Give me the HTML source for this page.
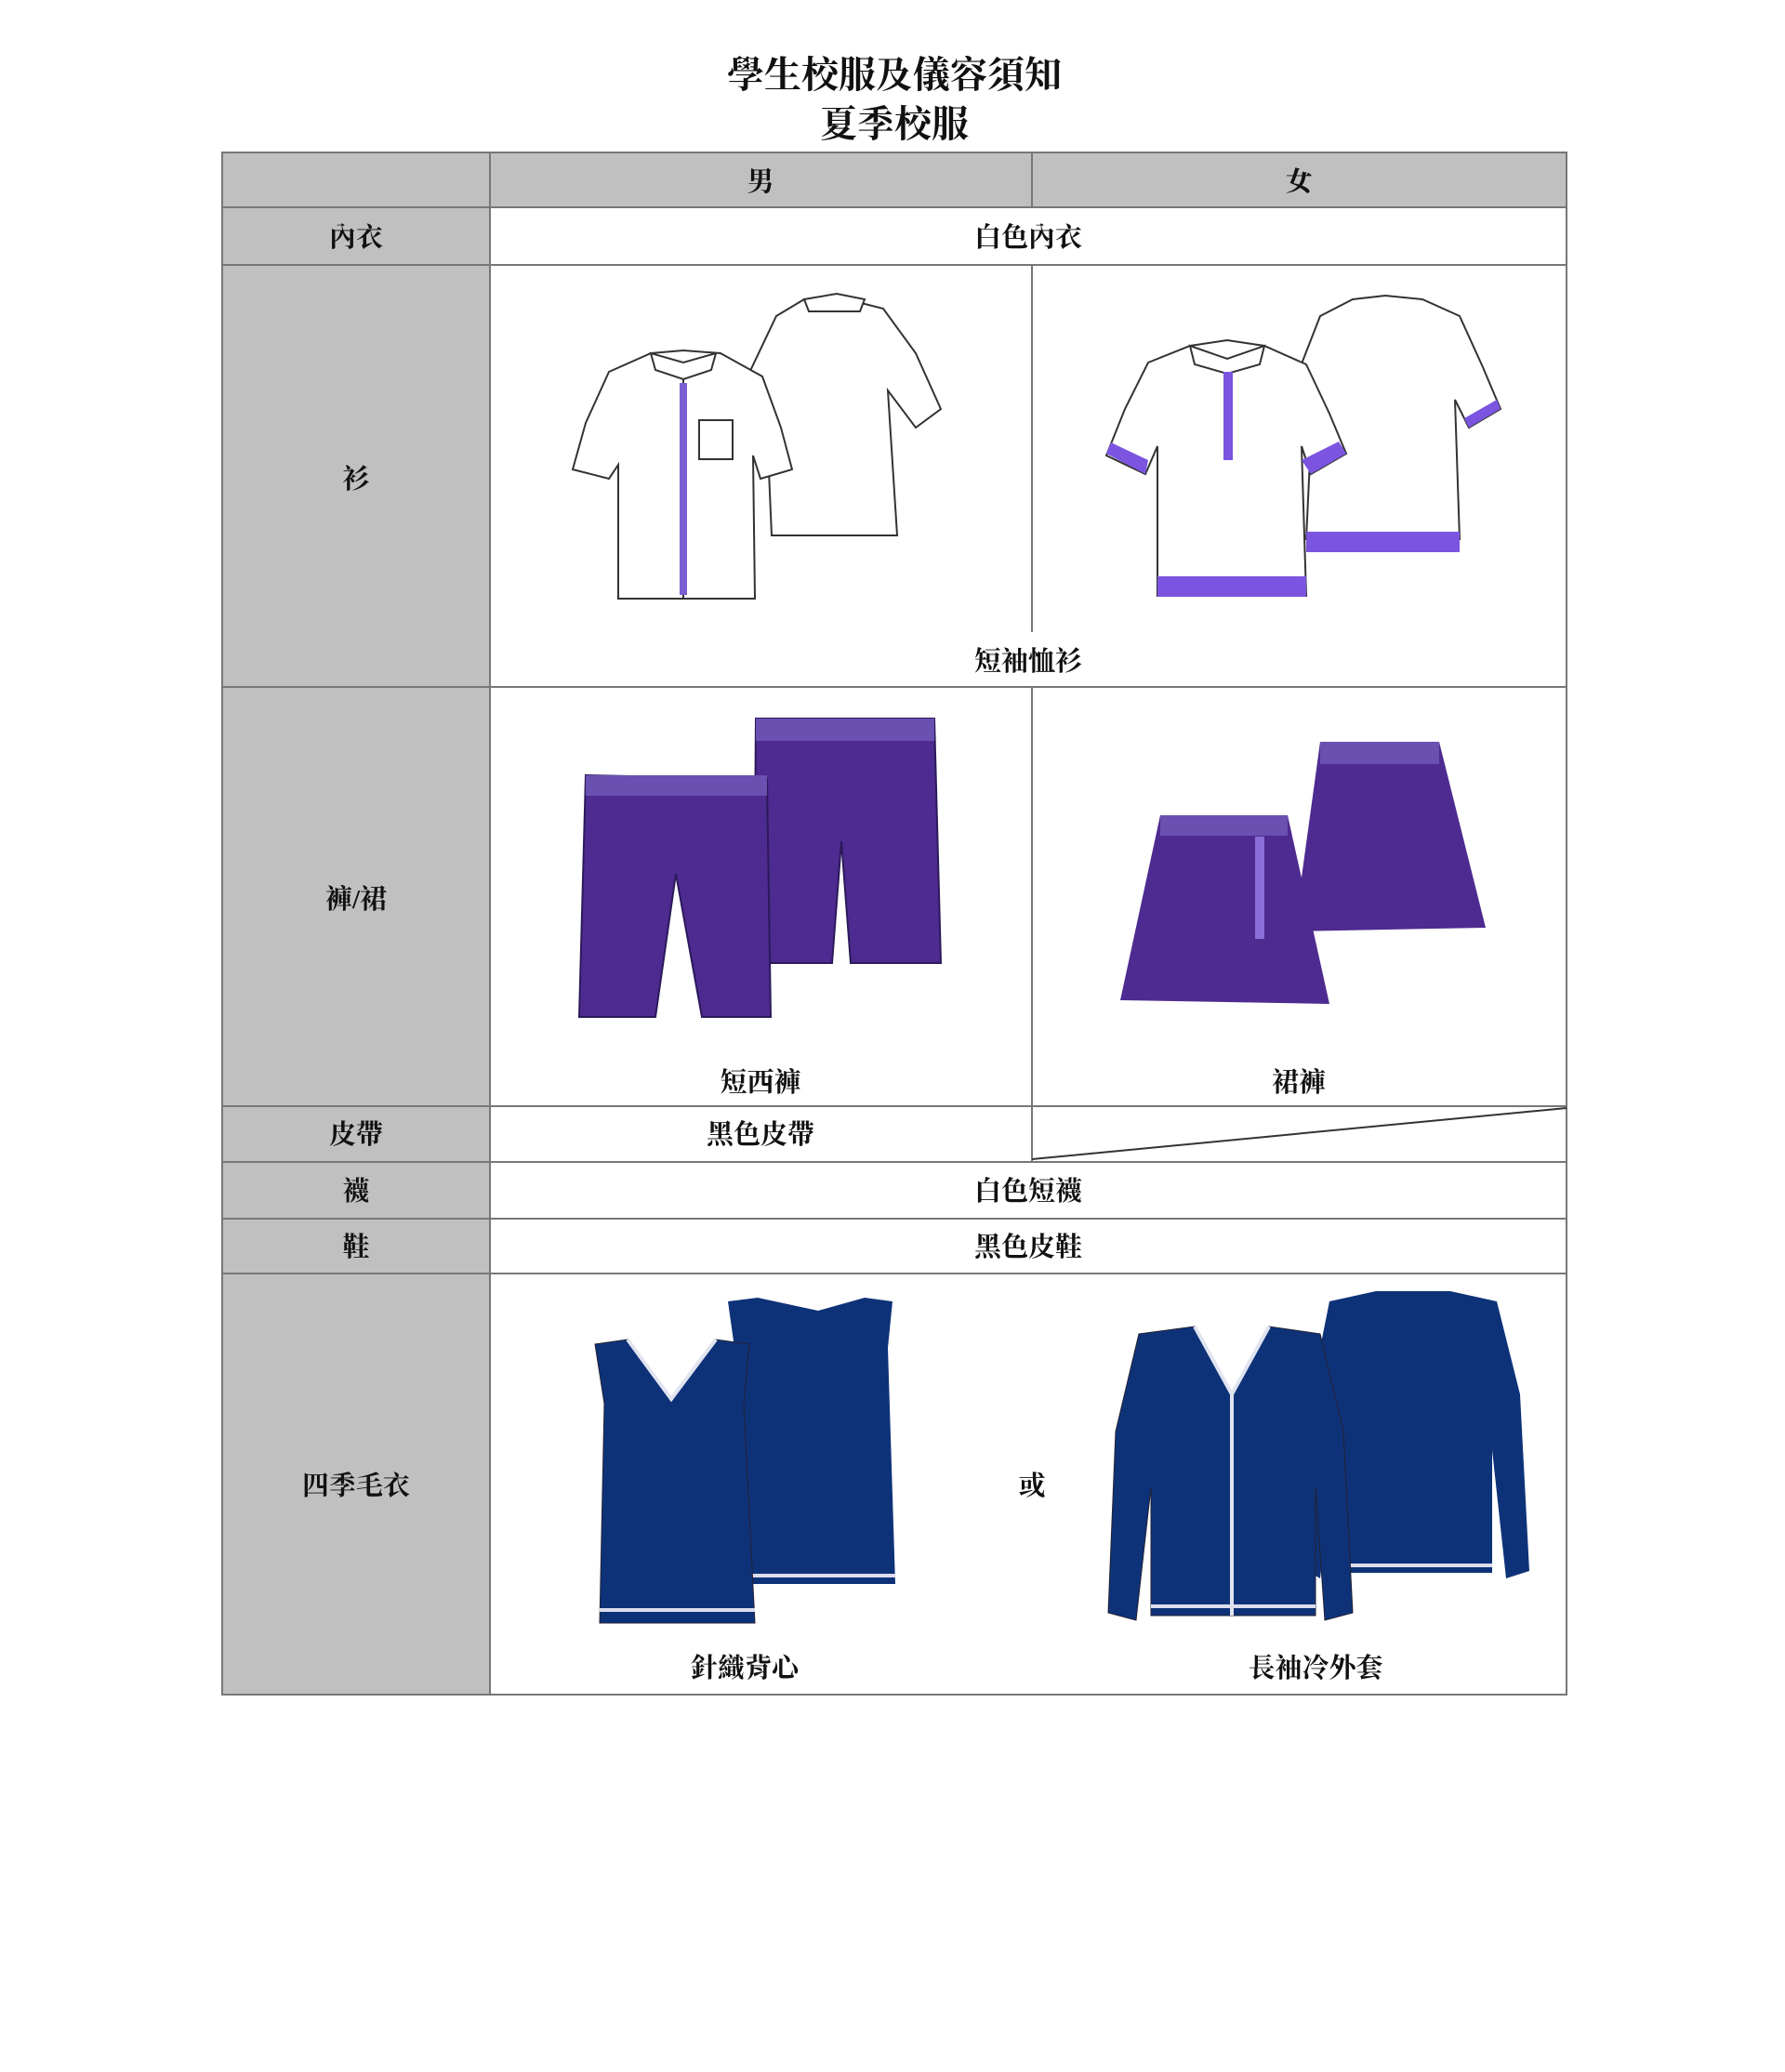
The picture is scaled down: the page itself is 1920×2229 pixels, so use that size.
<!DOCTYPE html>
<html><head><meta charset="utf-8">
<style>
html,body{margin:0;padding:0;background:#fff;}
svg{display:block;}
text{font-family:"Liberation Serif","Noto Serif CJK TC","Noto Serif CJK SC",serif;font-weight:bold;fill:#111;}
</style></head>
<body>
<svg width="1920" height="2229" viewBox="0 0 1920 2229" xmlns="http://www.w3.org/2000/svg">
<text x="962" y="94" font-size="40" text-anchor="middle">學生校服及儀容須知</text>
<text x="962" y="147" font-size="40" text-anchor="middle">夏季校服</text>

<!-- grey cells -->
<rect x="239" y="164" width="1446" height="59" fill="#c0c0c0"/>
<rect x="239" y="164" width="288" height="1659" fill="#c0c0c0"/>

<!-- grid lines -->
<g stroke="#777" stroke-width="2" fill="none">
<rect x="239" y="164" width="1446" height="1659"/>
<line x1="527" y1="164" x2="527" y2="1823"/>
<line x1="1110" y1="164" x2="1110" y2="223"/>
<line x1="1110" y1="285" x2="1110" y2="680"/>
<line x1="1110" y1="739" x2="1110" y2="1250"/>
<line x1="239" y1="223" x2="1685" y2="223"/>
<line x1="239" y1="285" x2="1685" y2="285"/>
<line x1="239" y1="739" x2="1685" y2="739"/>
<line x1="239" y1="1190" x2="1685" y2="1190"/>
<line x1="239" y1="1250" x2="1685" y2="1250"/>
<line x1="239" y1="1311" x2="1685" y2="1311"/>
<line x1="239" y1="1370" x2="1685" y2="1370"/>
<line x1="1110" y1="1247" x2="1685" y2="1192" stroke="#333"/>
</g>

<g font-size="29" text-anchor="middle">
<text x="818" y="205">男</text>
<text x="1397" y="205">女</text>
<text x="383" y="265">內衣</text>
<text x="1106" y="265">白色內衣</text>
<text x="383" y="525">衫</text>
<text x="1106" y="721">短袖恤衫</text>
<text x="383" y="977">褲/裙</text>
<text x="818" y="1174">短西褲</text>
<text x="1397" y="1174">裙褲</text>
<text x="383" y="1230">皮帶</text>
<text x="818" y="1230">黑色皮帶</text>
<text x="383" y="1291">襪</text>
<text x="1106" y="1291">白色短襪</text>
<text x="383" y="1351">鞋</text>
<text x="1106" y="1351">黑色皮鞋</text>
<text x="383" y="1608">四季毛衣</text>
<text x="1110" y="1608">或</text>
<text x="801" y="1804">針織背心</text>
<text x="1415" y="1804">長袖冷外套</text>
</g>

<!-- Men's shirt back -->
<g stroke="#333" stroke-width="2" fill="#fff">
<path d="M835 340 L865 322 L895 318 L950 332 L985 380 L1012 440 L985 460 L955 420 L965 576 L830 576 L825 460 L800 470 L797 420 Z"/>
<path d="M865 322 L900 316 L930 322 L925 335 L870 335 Z"/>
</g>
<!-- Men's shirt front -->
<g stroke="#333" stroke-width="2" fill="#fff">
<path d="M655 400 L700 380 L735 377 L775 380 L820 405 L840 460 L852 505 L818 515 L810 490 L812 644 L665 644 L665 500 L655 515 L616 505 L630 455 Z"/>
<path d="M700 380 L735 390 L770 380 L765 398 L735 408 L705 398 Z"/>
<line x1="735" y1="408" x2="735" y2="644"/>
<rect x="752" y="452" width="36" height="42"/>
</g>
<rect x="731" y="412" width="8" height="228" fill="#7b5fd0"/>

<!-- Women's polo back -->
<g stroke="#333" stroke-width="2" fill="#fff">
<path d="M1420 340 L1455 322 L1490 318 L1530 322 L1570 340 L1595 395 L1614 440 L1580 460 L1565 430 L1570 580 L1405 580 L1412 430 L1405 455 L1385 430 Z"/>
</g>
<rect x="1405" y="572" width="165" height="22" fill="#7b55e0"/>
<path d="M1580 460 L1614 440 L1610 430 L1575 450 Z" fill="#7b55e0"/>
<!-- Women's polo front -->
<g stroke="#333" stroke-width="2" fill="#fff">
<path d="M1235 390 L1280 372 L1320 366 L1360 372 L1405 392 L1430 445 L1448 488 L1410 510 L1400 480 L1405 641 L1245 641 L1245 480 L1232 510 L1190 490 L1210 440 Z"/>
<path d="M1280 372 L1320 386 L1360 372 L1355 392 L1320 402 L1285 392 Z"/>
</g>
<rect x="1316" y="400" width="10" height="95" fill="#7b55e0"/>
<rect x="1245" y="620" width="160" height="22" fill="#7b55e0"/>
<path d="M1190 488 L1195 476 L1235 495 L1232 510 Z" fill="#7b55e0"/>
<path d="M1400 495 L1440 475 L1448 488 L1410 510 Z" fill="#7b55e0"/>

<!-- Shorts back -->
<path d="M813 773 L1005 773 L1012 1036 L915 1036 L905 905 L895 1036 L811 1036 Z" fill="#4e2b90" stroke="#2c1a5a" stroke-width="2"/>
<rect x="813" y="773" width="192" height="24" fill="#6a50b0"/>
<!-- Shorts front -->
<path d="M630 834 L825 838 L829 1094 L755 1094 L727 940 L705 1094 L623 1094 Z" fill="#4e2b90" stroke="#2c1a5a" stroke-width="2"/>
<rect x="630" y="834" width="195" height="22" fill="#6a50b0"/>

<!-- Skirt back -->
<path d="M1420 798 L1548 798 L1598 998 L1392 1002 Z" fill="#4e2b90"/>
<rect x="1420" y="798" width="128" height="24" fill="#6a50b0"/>
<!-- Skirt front -->
<path d="M1248 877 L1385 877 L1430 1080 L1205 1076 Z" fill="#4e2b90"/>
<rect x="1248" y="877" width="137" height="22" fill="#6a50b0"/>
<rect x="1350" y="900" width="10" height="110" fill="#8a6fd8"/>

<!-- Vest back -->
<path d="M783 1400 L815 1396 L880 1410 L930 1396 L960 1400 L955 1450 L963 1704 L786 1704 L790 1450 Z" fill="#0e3278"/>
<line x1="786" y1="1695" x2="963" y2="1695" stroke="#dde" stroke-width="4"/>
<!-- Vest front -->
<path d="M640 1446 L675 1441 L722 1505 L770 1441 L806 1446 L800 1510 L812 1746 L645 1746 L650 1510 Z" fill="#0e3278" stroke="#223" stroke-width="1"/>
<path d="M675 1441 L722 1505 L770 1441" stroke="#e0e4f0" stroke-width="4" fill="none"/>
<line x1="645" y1="1732" x2="812" y2="1732" stroke="#dde" stroke-width="4"/>

<!-- Cardigan back -->
<path d="M1430 1400 L1480 1389 L1560 1389 L1610 1400 L1635 1500 L1645 1690 L1620 1698 L1605 1560 L1605 1692 L1440 1692 L1435 1560 L1420 1698 L1406 1690 L1410 1500 Z" fill="#0e3278"/>
<line x1="1440" y1="1684" x2="1605" y2="1684" stroke="#dde" stroke-width="4"/>
<!-- Cardigan front -->
<path d="M1225 1435 L1285 1427 L1325 1500 L1365 1427 L1420 1435 L1445 1540 L1455 1735 L1425 1743 L1415 1600 L1415 1738 L1238 1738 L1238 1600 L1222 1743 L1192 1735 L1200 1540 Z" fill="#0e3278" stroke="#223" stroke-width="1"/>
<path d="M1285 1427 L1325 1500 L1365 1427" stroke="#e0e4f0" stroke-width="4" fill="none"/>
<line x1="1325" y1="1500" x2="1325" y2="1738" stroke="#e0e4f0" stroke-width="4"/>
<line x1="1238" y1="1728" x2="1415" y2="1728" stroke="#dde" stroke-width="4"/>
</svg>
</body></html>
